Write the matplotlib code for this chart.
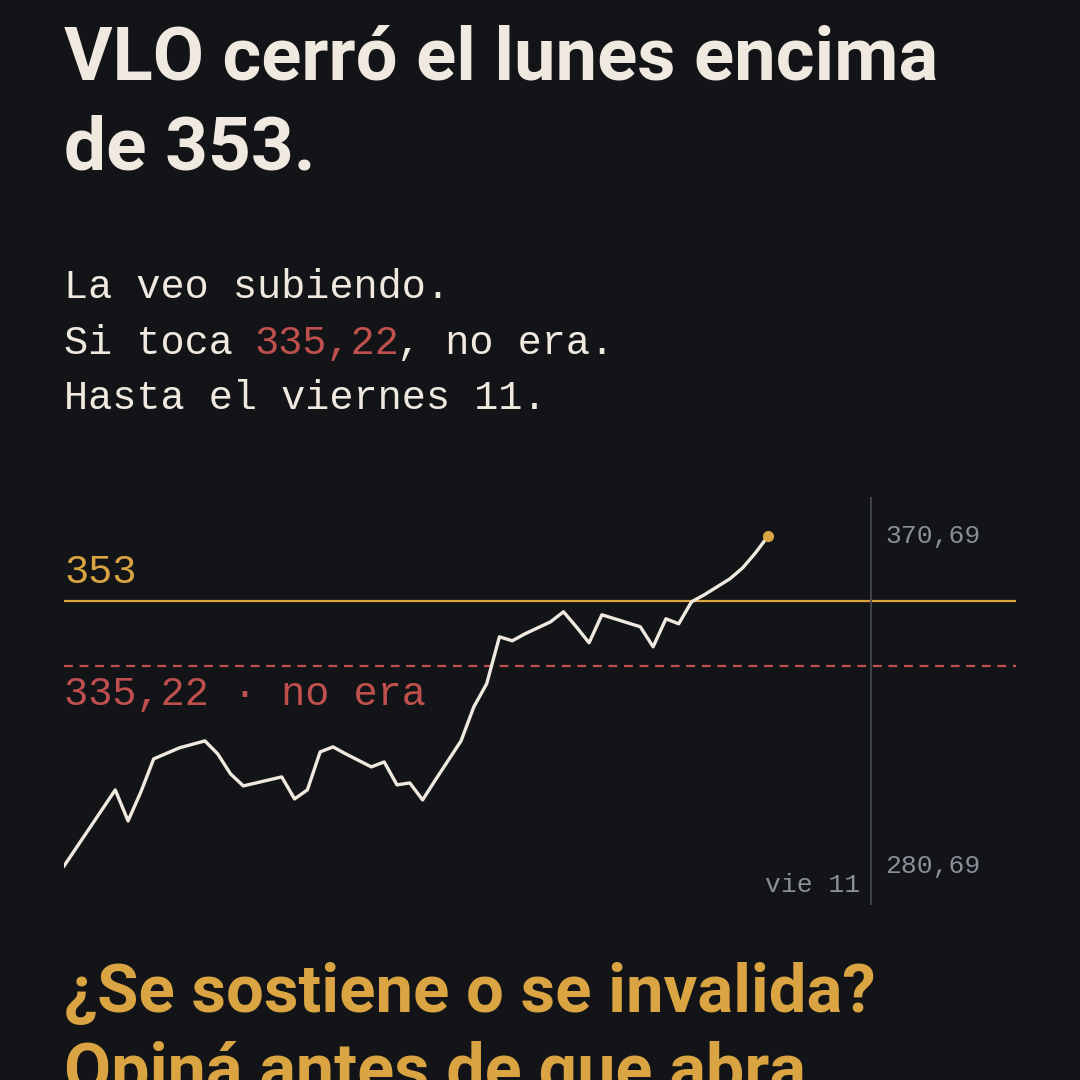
import matplotlib
matplotlib.use("Agg")
import matplotlib.pyplot as plt

BG = "#131418"; FG = "#efe9df"; GOLD = "#d9a441"; RED = "#c0504d"; GREY = "#8a8f99"

idx = [0,2,4,5,6,7,9,11,12,13,14,15,17,18,19,20,21,22,24,25,26,27,28,29,31,32,33,34,35,36,38,39,40,41,42,43,45,46,47,48,49,50,52,53,54,55]
price = [280.69,291.05,301.42,292.97,300.88,309.88,312.88,314.78,311.24,305.79,302.52,303.33,304.97,298.97,301.42,311.78,313.15,311.24,307.69,309.06,302.79,303.33,298.70,304.15,314.78,324.06,330.33,343.15,342.06,343.97,347.24,349.97,345.88,341.51,349.15,348.06,345.88,340.42,348.06,346.69,352.69,354.60,358.96,361.96,366.05,370.69]
target = 353
stop = 335.22
ymax_lbl, ymin_lbl = "370,69", "280,69"
end_idx = 63

cond = ["Roboto", "DejaVu Sans"]
mono = ["Liberation Mono", "DejaVu Sans Mono"]

fig = plt.figure(figsize=(10.8, 10.8), dpi=100, facecolor=BG)

def fy(px):
    return 1 - px / 1080

big = []
def bigtext(y, s, color, width):
    t = fig.text(0.059, fy(y), s, color=color, family=cond, weight="bold",
                 fontsize=60, va="baseline")
    big.append((t, width))

bigtext(80, "VLO cerró el lunes encima", FG, 874)
bigtext(170, "de 353.", FG, 252)
bigtext(1012, "¿Se sostiene o se invalida?", GOLD, 811)
bigtext(1092, "Opiná antes de que abra.", GOLD, 762)

fs = 29
cw = 23.8 / 1080
fig.text(0.059, fy(287), "La veo subiendo.", color=FG, family=mono, fontsize=fs, va="center")
fig.text(0.059, fy(343), "Si toca ", color=FG, family=mono, fontsize=fs, va="center")
fig.text(0.059 + 8*cw, fy(343), "335,22", color=RED, family=mono, fontsize=fs, va="center")
fig.text(0.059 + 14*cw, fy(343), ", no era.", color=FG, family=mono, fontsize=fs, va="center")
fig.text(0.059, fy(398), "Hasta el viernes 11.", color=FG, family=mono, fontsize=fs, va="center")

ax = fig.add_axes([0.0593, 0.162, 0.881, 0.378])
ax.set_facecolor(BG)
for s in ax.spines.values():
    s.set_visible(False)
ax.set_xticks([]); ax.set_yticks([])
ax.set_xlim(0, 74.3)
ax.set_ylim(270.05, 381.3)
ax.axhline(target, color=GOLD, lw=1.6)
ax.axhline(stop, color=RED, lw=1.6, ls=(0, (4, 3)))
ax.axvline(end_idx, color="#4a4d55", lw=1.2)
ax.plot(idx, price, color=FG, lw=2.4)
ax.plot(idx[-1], price[-1], "o", color=GOLD, ms=7)
ax.text(0, target + 2.5, str(target), color=GOLD, family=mono, fontsize=fs, va="bottom")
ax.text(0, stop - 2.5, "335,22 · no era", color=RED, family=mono, fontsize=fs, va="top")
ax.text(end_idx + 1.1, 370.69, ymax_lbl, color=GREY, family=mono, fontsize=19, va="center")
ax.text(end_idx + 1.1, 280.69, ymin_lbl, color=GREY, family=mono, fontsize=19, va="center")
ax.text(end_idx - 0.8, 275.5, "vie 11", color=GREY, family=mono, fontsize=19, va="center", ha="right")

r = fig.canvas.get_renderer()
for t, w in big:
    bb = t.get_window_extent(r)
    t.set_fontsize(60 * w / bb.width)
    t.set_fontstretch("condensed")

fig.savefig("out.png", dpi=100, facecolor=BG)
